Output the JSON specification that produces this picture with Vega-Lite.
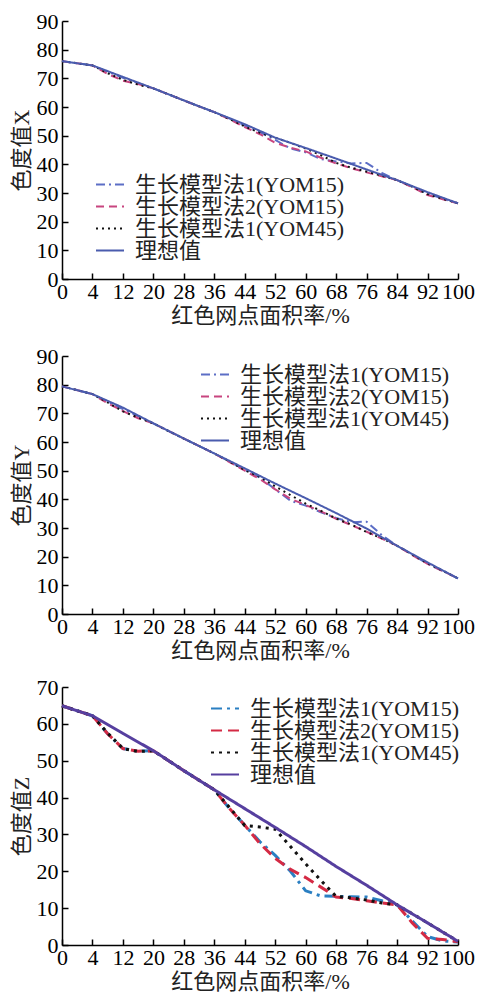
{
  "$schema": "https://vega.github.io/schema/vega-lite/v6.json",
  "padding": {"left": 10, "top": 10, "right": 0, "bottom": 0},
  "background": "white",
  "config": {
    "view": {"stroke": null},
    "font": "Liberation Serif, Noto Sans CJK SC",
    "axis": {
      "domainColor": "black", "domainWidth": 1.5,
      "tickColor": "black", "tickWidth": 1.5, "tickSize": -6,
      "labelFont": "Liberation Serif", "labelFontSize": 22, "labelColor": "black",
      "labelPadding": 10, "labelOverlap": false, "labelFlush": false, "labelBound": false,
      "titleFont": "Liberation Serif, Noto Sans CJK SC", "titleFontSize": 22, "titleFontWeight": "normal", "titleColor": "#222",
      "titlePadding": 3, "grid": false
    },
    "axisX": {"labelPadding": 8},
    "legend": {
      "title": null, "orient": "none",
      "labelFont": "Liberation Serif, Noto Sans CJK SC", "labelFontSize": 22, "labelColor": "#222",
      "symbolType": "stroke", "symbolSize": 784, "symbolStrokeWidth": 2, "labelOffset": 10,
      "rowPadding": 0, "clipHeight": 21, "padding": 0, "labelLimit": 400
    }
  },
  "datasets": {
    "X": [
      {"s":"生长模型法1(YOM15)","p":0,"v":76},{"s":"生长模型法1(YOM15)","p":4,"v":74.5},{"s":"生长模型法1(YOM15)","p":8,"v":72.3},{"s":"生长模型法1(YOM15)","p":12,"v":70.2},{"s":"生长模型法1(YOM15)","p":16,"v":68.3},{"s":"生长模型法1(YOM15)","p":20,"v":66.5},{"s":"生长模型法1(YOM15)","p":24,"v":64.4},{"s":"生长模型法1(YOM15)","p":28,"v":62.3},{"s":"生长模型法1(YOM15)","p":32,"v":60.2},{"s":"生长模型法1(YOM15)","p":36,"v":58.2},{"s":"生长模型法1(YOM15)","p":40,"v":56},{"s":"生长模型法1(YOM15)","p":44,"v":53.5},{"s":"生长模型法1(YOM15)","p":48,"v":51.2},{"s":"生长模型法1(YOM15)","p":52,"v":48.5},{"s":"生长模型法1(YOM15)","p":56,"v":45.5},{"s":"生长模型法1(YOM15)","p":60,"v":44.2},{"s":"生长模型法1(YOM15)","p":64,"v":41.8},{"s":"生长模型法1(YOM15)","p":68,"v":41},{"s":"生长模型法1(YOM15)","p":72,"v":40.3},{"s":"生长模型法1(YOM15)","p":76,"v":40.5},{"s":"生长模型法1(YOM15)","p":80,"v":37},{"s":"生长模型法1(YOM15)","p":84,"v":34.5},{"s":"生长模型法1(YOM15)","p":88,"v":32.2},{"s":"生长模型法1(YOM15)","p":92,"v":29.8},{"s":"生长模型法1(YOM15)","p":96,"v":28},{"s":"生长模型法1(YOM15)","p":100,"v":26.4},
      {"s":"生长模型法2(YOM15)","p":0,"v":76},{"s":"生长模型法2(YOM15)","p":4,"v":74.5},{"s":"生长模型法2(YOM15)","p":8,"v":71.5},{"s":"生长模型法2(YOM15)","p":12,"v":69.2},{"s":"生长模型法2(YOM15)","p":16,"v":68},{"s":"生长模型法2(YOM15)","p":20,"v":66.5},{"s":"生长模型法2(YOM15)","p":24,"v":64.4},{"s":"生长模型法2(YOM15)","p":28,"v":62.3},{"s":"生长模型法2(YOM15)","p":32,"v":60.2},{"s":"生长模型法2(YOM15)","p":36,"v":58.2},{"s":"生长模型法2(YOM15)","p":40,"v":55.7},{"s":"生长模型法2(YOM15)","p":44,"v":53},{"s":"生长模型法2(YOM15)","p":48,"v":50.5},{"s":"生长模型法2(YOM15)","p":52,"v":47.5},{"s":"生长模型法2(YOM15)","p":56,"v":45.8},{"s":"生长模型法2(YOM15)","p":60,"v":44.5},{"s":"生长模型法2(YOM15)","p":64,"v":42.3},{"s":"生长模型法2(YOM15)","p":68,"v":40.3},{"s":"生长模型法2(YOM15)","p":72,"v":38.6},{"s":"生长模型法2(YOM15)","p":76,"v":37.2},{"s":"生长模型法2(YOM15)","p":80,"v":35.8},{"s":"生长模型法2(YOM15)","p":84,"v":34.5},{"s":"生长模型法2(YOM15)","p":88,"v":32},{"s":"生长模型法2(YOM15)","p":92,"v":29.3},{"s":"生长模型法2(YOM15)","p":96,"v":27.8},{"s":"生长模型法2(YOM15)","p":100,"v":26.4},
      {"s":"生长模型法1(YOM45)","p":0,"v":76},{"s":"生长模型法1(YOM45)","p":4,"v":74.5},{"s":"生长模型法1(YOM45)","p":8,"v":71.8},{"s":"生长模型法1(YOM45)","p":12,"v":69.5},{"s":"生长模型法1(YOM45)","p":16,"v":67.8},{"s":"生长模型法1(YOM45)","p":20,"v":66.5},{"s":"生长模型法1(YOM45)","p":24,"v":64.4},{"s":"生长模型法1(YOM45)","p":28,"v":62.3},{"s":"生长模型法1(YOM45)","p":32,"v":60.2},{"s":"生长模型法1(YOM45)","p":36,"v":58.2},{"s":"生长模型法1(YOM45)","p":40,"v":55.8},{"s":"生长模型法1(YOM45)","p":44,"v":53.2},{"s":"生长模型法1(YOM45)","p":48,"v":51},{"s":"生长模型法1(YOM45)","p":52,"v":49.3},{"s":"生长模型法1(YOM45)","p":56,"v":47.5},{"s":"生长模型法1(YOM45)","p":60,"v":45.5},{"s":"生长模型法1(YOM45)","p":64,"v":43.2},{"s":"生长模型法1(YOM45)","p":68,"v":40.5},{"s":"生长模型法1(YOM45)","p":72,"v":38.8},{"s":"生长模型法1(YOM45)","p":76,"v":37.5},{"s":"生长模型法1(YOM45)","p":80,"v":36},{"s":"生长模型法1(YOM45)","p":84,"v":34.5},{"s":"生长模型法1(YOM45)","p":88,"v":32.2},{"s":"生长模型法1(YOM45)","p":92,"v":29.6},{"s":"生长模型法1(YOM45)","p":96,"v":28},{"s":"生长模型法1(YOM45)","p":100,"v":26.4},
      {"s":"理想值","p":0,"v":76},{"s":"理想值","p":4,"v":74.5},{"s":"理想值","p":12,"v":70.5},{"s":"理想值","p":20,"v":66.5},{"s":"理想值","p":28,"v":62.3},{"s":"理想值","p":36,"v":58.2},{"s":"理想值","p":44,"v":54},{"s":"理想值","p":52,"v":49.3},{"s":"理想值","p":60,"v":45.7},{"s":"理想值","p":68,"v":42},{"s":"理想值","p":76,"v":38.2},{"s":"理想值","p":84,"v":34.5},{"s":"理想值","p":92,"v":30.3},{"s":"理想值","p":100,"v":26.4}
    ],
    "Y": [
      {"s":"生长模型法1(YOM15)","p":0,"v":79.4},{"s":"生长模型法1(YOM15)","p":4,"v":76.7},{"s":"生长模型法1(YOM15)","p":8,"v":74},{"s":"生长模型法1(YOM15)","p":12,"v":71.5},{"s":"生长模型法1(YOM15)","p":16,"v":69},{"s":"生长模型法1(YOM15)","p":20,"v":66.5},{"s":"生长模型法1(YOM15)","p":24,"v":63.8},{"s":"生长模型法1(YOM15)","p":28,"v":61.2},{"s":"生长模型法1(YOM15)","p":32,"v":58.6},{"s":"生长模型法1(YOM15)","p":36,"v":56},{"s":"生长模型法1(YOM15)","p":40,"v":53.2},{"s":"生长模型法1(YOM15)","p":44,"v":50.3},{"s":"生长模型法1(YOM15)","p":48,"v":47.5},{"s":"生长模型法1(YOM15)","p":52,"v":43.5},{"s":"生长模型法1(YOM15)","p":56,"v":39.5},{"s":"生长模型法1(YOM15)","p":60,"v":37.8},{"s":"生长模型法1(YOM15)","p":64,"v":35.5},{"s":"生长模型法1(YOM15)","p":68,"v":33.5},{"s":"生长模型法1(YOM15)","p":72,"v":32},{"s":"生长模型法1(YOM15)","p":76,"v":32.2},{"s":"生长模型法1(YOM15)","p":80,"v":27.5},{"s":"生长模型法1(YOM15)","p":84,"v":23.8},{"s":"生长模型法1(YOM15)","p":88,"v":20.7},{"s":"生长模型法1(YOM15)","p":92,"v":17.5},{"s":"生长模型法1(YOM15)","p":96,"v":15},{"s":"生长模型法1(YOM15)","p":100,"v":12.4},
      {"s":"生长模型法2(YOM15)","p":0,"v":79.4},{"s":"生长模型法2(YOM15)","p":4,"v":76.7},{"s":"生长模型法2(YOM15)","p":8,"v":73.5},{"s":"生长模型法2(YOM15)","p":12,"v":70.8},{"s":"生长模型法2(YOM15)","p":16,"v":68.3},{"s":"生长模型法2(YOM15)","p":20,"v":66.5},{"s":"生长模型法2(YOM15)","p":24,"v":63.8},{"s":"生长模型法2(YOM15)","p":28,"v":61.2},{"s":"生长模型法2(YOM15)","p":32,"v":58.6},{"s":"生长模型法2(YOM15)","p":36,"v":56},{"s":"生长模型法2(YOM15)","p":40,"v":53},{"s":"生长模型法2(YOM15)","p":44,"v":50},{"s":"生长模型法2(YOM15)","p":48,"v":47},{"s":"生长模型法2(YOM15)","p":52,"v":43.5},{"s":"生长模型法2(YOM15)","p":56,"v":40.2},{"s":"生长模型法2(YOM15)","p":60,"v":38},{"s":"生长模型法2(YOM15)","p":64,"v":35.8},{"s":"生长模型法2(YOM15)","p":68,"v":33.2},{"s":"生长模型法2(YOM15)","p":72,"v":31},{"s":"生长模型法2(YOM15)","p":76,"v":28.7},{"s":"生长模型法2(YOM15)","p":80,"v":26.3},{"s":"生长模型法2(YOM15)","p":84,"v":23.8},{"s":"生长模型法2(YOM15)","p":88,"v":20.5},{"s":"生长模型法2(YOM15)","p":92,"v":17.5},{"s":"生长模型法2(YOM15)","p":96,"v":15},{"s":"生长模型法2(YOM15)","p":100,"v":12.4},
      {"s":"生长模型法1(YOM45)","p":0,"v":79.4},{"s":"生长模型法1(YOM45)","p":4,"v":76.7},{"s":"生长模型法1(YOM45)","p":8,"v":73.8},{"s":"生长模型法1(YOM45)","p":12,"v":70.7},{"s":"生长模型法1(YOM45)","p":16,"v":68.5},{"s":"生长模型法1(YOM45)","p":20,"v":66.5},{"s":"生长模型法1(YOM45)","p":24,"v":63.8},{"s":"生长模型法1(YOM45)","p":28,"v":61.2},{"s":"生长模型法1(YOM45)","p":32,"v":58.6},{"s":"生长模型法1(YOM45)","p":36,"v":56},{"s":"生长模型法1(YOM45)","p":40,"v":53.2},{"s":"生长模型法1(YOM45)","p":44,"v":50.2},{"s":"生长模型法1(YOM45)","p":48,"v":47.8},{"s":"生长模型法1(YOM45)","p":52,"v":44.5},{"s":"生长模型法1(YOM45)","p":56,"v":41.5},{"s":"生长模型法1(YOM45)","p":60,"v":38.5},{"s":"生长模型法1(YOM45)","p":64,"v":36},{"s":"生长模型法1(YOM45)","p":68,"v":33.3},{"s":"生长模型法1(YOM45)","p":72,"v":31.2},{"s":"生长模型法1(YOM45)","p":76,"v":28.6},{"s":"生长模型法1(YOM45)","p":80,"v":26.4},{"s":"生长模型法1(YOM45)","p":84,"v":23.8},{"s":"生长模型法1(YOM45)","p":88,"v":20.7},{"s":"生长模型法1(YOM45)","p":92,"v":17.7},{"s":"生长模型法1(YOM45)","p":96,"v":15.1},{"s":"生长模型法1(YOM45)","p":100,"v":12.4},
      {"s":"理想值","p":0,"v":79.4},{"s":"理想值","p":4,"v":76.7},{"s":"理想值","p":12,"v":72},{"s":"理想值","p":20,"v":66.5},{"s":"理想值","p":28,"v":61.2},{"s":"理想值","p":36,"v":56},{"s":"理想值","p":44,"v":50.8},{"s":"理想值","p":52,"v":45.5},{"s":"理想值","p":60,"v":40.4},{"s":"理想值","p":68,"v":35.2},{"s":"理想值","p":76,"v":29.8},{"s":"理想值","p":84,"v":23.8},{"s":"理想值","p":92,"v":18},{"s":"理想值","p":100,"v":12.4}
    ],
    "Z": [
      {"s":"生长模型法1(YOM15)","p":0,"v":64.9},{"s":"生长模型法1(YOM15)","p":4,"v":62.2},{"s":"生长模型法1(YOM15)","p":8,"v":57.3},{"s":"生长模型法1(YOM15)","p":12,"v":53.3},{"s":"生长模型法1(YOM15)","p":16,"v":52.6},{"s":"生长模型法1(YOM15)","p":20,"v":52.7},{"s":"生长模型法1(YOM15)","p":24,"v":50},{"s":"生长模型法1(YOM15)","p":28,"v":47.3},{"s":"生长模型法1(YOM15)","p":32,"v":44.7},{"s":"生长模型法1(YOM15)","p":36,"v":42.1},{"s":"生长模型法1(YOM15)","p":40,"v":37},{"s":"生长模型法1(YOM15)","p":44,"v":32.5},{"s":"生长模型法1(YOM15)","p":48,"v":28},{"s":"生长模型法1(YOM15)","p":52,"v":24.3},{"s":"生长模型法1(YOM15)","p":56,"v":20},{"s":"生长模型法1(YOM15)","p":60,"v":14.7},{"s":"生长模型法1(YOM15)","p":64,"v":13.3},{"s":"生长模型法1(YOM15)","p":68,"v":13.2},{"s":"生长模型法1(YOM15)","p":72,"v":13.1},{"s":"生长模型法1(YOM15)","p":76,"v":13},{"s":"生长模型法1(YOM15)","p":80,"v":12},{"s":"生长模型法1(YOM15)","p":84,"v":10.9},{"s":"生长模型法1(YOM15)","p":88,"v":6.5},{"s":"生长模型法1(YOM15)","p":92,"v":2.3},{"s":"生长模型法1(YOM15)","p":96,"v":1.1},{"s":"生长模型法1(YOM15)","p":100,"v":0.8},
      {"s":"生长模型法2(YOM15)","p":0,"v":64.9},{"s":"生长模型法2(YOM15)","p":4,"v":62.2},{"s":"生长模型法2(YOM15)","p":8,"v":57.3},{"s":"生长模型法2(YOM15)","p":12,"v":53.3},{"s":"生长模型法2(YOM15)","p":16,"v":52.6},{"s":"生长模型法2(YOM15)","p":20,"v":52.7},{"s":"生长模型法2(YOM15)","p":24,"v":50},{"s":"生长模型法2(YOM15)","p":28,"v":47.3},{"s":"生长模型法2(YOM15)","p":32,"v":44.7},{"s":"生长模型法2(YOM15)","p":36,"v":42.1},{"s":"生长模型法2(YOM15)","p":40,"v":37},{"s":"生长模型法2(YOM15)","p":44,"v":32.5},{"s":"生长模型法2(YOM15)","p":48,"v":27.5},{"s":"生长模型法2(YOM15)","p":52,"v":23.5},{"s":"生长模型法2(YOM15)","p":56,"v":20.5},{"s":"生长模型法2(YOM15)","p":60,"v":18.3},{"s":"生长模型法2(YOM15)","p":64,"v":15.7},{"s":"生长模型法2(YOM15)","p":68,"v":13},{"s":"生长模型法2(YOM15)","p":72,"v":12.6},{"s":"生长模型法2(YOM15)","p":76,"v":12},{"s":"生长模型法2(YOM15)","p":80,"v":11.4},{"s":"生长模型法2(YOM15)","p":84,"v":10.9},{"s":"生长模型法2(YOM15)","p":88,"v":6},{"s":"生长模型法2(YOM15)","p":92,"v":1.8},{"s":"生长模型法2(YOM15)","p":96,"v":1.5},{"s":"生长模型法2(YOM15)","p":100,"v":0.9},
      {"s":"生长模型法1(YOM45)","p":0,"v":64.9},{"s":"生长模型法1(YOM45)","p":4,"v":62.2},{"s":"生长模型法1(YOM45)","p":8,"v":57.5},{"s":"生长模型法1(YOM45)","p":12,"v":53.3},{"s":"生长模型法1(YOM45)","p":16,"v":52.5},{"s":"生长模型法1(YOM45)","p":20,"v":52.7},{"s":"生长模型法1(YOM45)","p":24,"v":50},{"s":"生长模型法1(YOM45)","p":28,"v":47.3},{"s":"生长模型法1(YOM45)","p":32,"v":44.7},{"s":"生长模型法1(YOM45)","p":36,"v":42.1},{"s":"生长模型法1(YOM45)","p":40,"v":37.3},{"s":"生长模型法1(YOM45)","p":44,"v":32.4},{"s":"生长模型法1(YOM45)","p":48,"v":32},{"s":"生长模型法1(YOM45)","p":52,"v":31.4},{"s":"生长模型法1(YOM45)","p":56,"v":26.7},{"s":"生长模型法1(YOM45)","p":60,"v":22},{"s":"生长模型法1(YOM45)","p":64,"v":17.5},{"s":"生长模型法1(YOM45)","p":68,"v":13.2},{"s":"生长模型法1(YOM45)","p":72,"v":12.8},{"s":"生长模型法1(YOM45)","p":76,"v":12.2},{"s":"生长模型法1(YOM45)","p":80,"v":11.4},{"s":"生长模型法1(YOM45)","p":84,"v":10.9},{"s":"生长模型法1(YOM45)","p":88,"v":8.5},{"s":"生长模型法1(YOM45)","p":92,"v":6},{"s":"生长模型法1(YOM45)","p":96,"v":3.5},{"s":"生长模型法1(YOM45)","p":100,"v":1},
      {"s":"理想值","p":0,"v":64.9},{"s":"理想值","p":4,"v":62.2},{"s":"理想值","p":12,"v":57.4},{"s":"理想值","p":20,"v":52.7},{"s":"理想值","p":28,"v":47.3},{"s":"理想值","p":36,"v":42.1},{"s":"理想值","p":44,"v":37},{"s":"理想值","p":52,"v":31.9},{"s":"理想值","p":60,"v":26.7},{"s":"理想值","p":68,"v":21.3},{"s":"理想值","p":76,"v":16.2},{"s":"理想值","p":84,"v":10.9},{"s":"理想值","p":92,"v":6},{"s":"理想值","p":100,"v":1}
    ]
  },
  "resolve": {"scale": {"color": "independent", "strokeDash": "independent", "x": "independent", "y": "independent"}, "legend": {"color": "independent", "strokeDash": "independent"}},
  "spacing": 15,
  "vconcat": [
    {
      "resolve": {"scale": {"color": "independent", "strokeDash": "independent", "x": "independent", "y": "independent"}, "legend": {"color": "independent", "strokeDash": "independent"}},
      "spacing": 19,
      "vconcat": [
        {
          "width": 396, "height": 258,
          "data": {"name": "X"},
          "mark": {"type": "line", "strokeWidth": 2},
          "encoding": {
            "x": {"field": "p", "type": "quantitative", "scale": {"type": "linear", "domain": [0, 4, 100], "range": [0, 30.46, 396], "nice": false, "zero": false}, "axis": {"values": [0,4,12,20,28,36,44,52,60,68,76,84,92,100], "title": "红色网点面积率/%"}},
            "y": {"field": "v", "type": "quantitative", "scale": {"domain": [0, 90], "nice": false}, "axis": {"values": [0,10,20,30,40,50,60,70,80,90], "title": "色度值X"}},
            "color": {"field": "s", "type": "nominal", "scale": {"domain": ["生长模型法1(YOM15)","生长模型法2(YOM15)","生长模型法1(YOM45)","理想值"], "range": ["#5c6ec6","#c8457f","#111111","#4a5cae"]}, "legend": {"legendX": 33, "legendY": 153, "rowPadding": -1}},
            "strokeDash": {"field": "s", "type": "nominal", "scale": {"domain": ["生长模型法1(YOM15)","生长模型法2(YOM15)","生长模型法1(YOM45)","理想值"], "range": [[9,4,2,4],[8,5],[2,4],[1,0]]}, "legend": {"legendX": 33, "legendY": 153, "rowPadding": -1}}
          }
        },
        {
          "width": 396, "height": 258,
          "data": {"name": "Y"},
          "mark": {"type": "line", "strokeWidth": 2},
          "encoding": {
            "x": {"field": "p", "type": "quantitative", "scale": {"type": "linear", "domain": [0, 4, 100], "range": [0, 30.46, 396], "nice": false, "zero": false}, "axis": {"values": [0,4,12,20,28,36,44,52,60,68,76,84,92,100], "title": "红色网点面积率/%"}},
            "y": {"field": "v", "type": "quantitative", "scale": {"domain": [0, 90], "nice": false}, "axis": {"values": [0,10,20,30,40,50,60,70,80,90], "title": "色度值Y"}},
            "color": {"field": "s", "type": "nominal", "scale": {"domain": ["生长模型法1(YOM15)","生长模型法2(YOM15)","生长模型法1(YOM45)","理想值"], "range": ["#5c6ec6","#c8457f","#111111","#4a5cae"]}, "legend": {"legendX": 138, "legendY": 8, "rowPadding": -1}},
            "strokeDash": {"field": "s", "type": "nominal", "scale": {"domain": ["生长模型法1(YOM15)","生长模型法2(YOM15)","生长模型法1(YOM45)","理想值"], "range": [[9,4,2,4],[8,5],[2,4],[1,0]]}, "legend": {"legendX": 138, "legendY": 8, "rowPadding": -1}}
          }
        }
      ]
    },
    {
      "width": 396, "height": 258,
      "data": {"name": "Z"},
      "mark": {"type": "line", "strokeWidth": 3},
      "encoding": {
        "x": {"field": "p", "type": "quantitative", "scale": {"type": "linear", "domain": [0, 4, 100], "range": [0, 30.46, 396], "nice": false, "zero": false}, "axis": {"values": [0,4,12,20,28,36,44,52,60,68,76,84,92,100], "title": "红色网点面积率/%"}},
        "y": {"field": "v", "type": "quantitative", "scale": {"domain": [0, 70], "nice": false}, "axis": {"values": [0,10,20,30,40,50,60,70], "title": "色度值Z"}},
        "color": {"field": "s", "type": "nominal", "scale": {"domain": ["生长模型法1(YOM15)","生长模型法2(YOM15)","生长模型法1(YOM45)","理想值"], "range": ["#2a7fc2","#d42a44","#111111","#563f9f"]}, "legend": {"legendX": 148, "legendY": 11, "symbolStrokeWidth": 2, "rowPadding": -1}},
        "strokeDash": {"field": "s", "type": "nominal", "scale": {"domain": ["生长模型法1(YOM15)","生长模型法2(YOM15)","生长模型法1(YOM45)","理想值"], "range": [[11,5,3,5],[11,6],[3,5],[1,0]]}, "legend": {"legendX": 148, "legendY": 11, "symbolStrokeWidth": 2, "rowPadding": -1}}
      }
    }
  ]
}
